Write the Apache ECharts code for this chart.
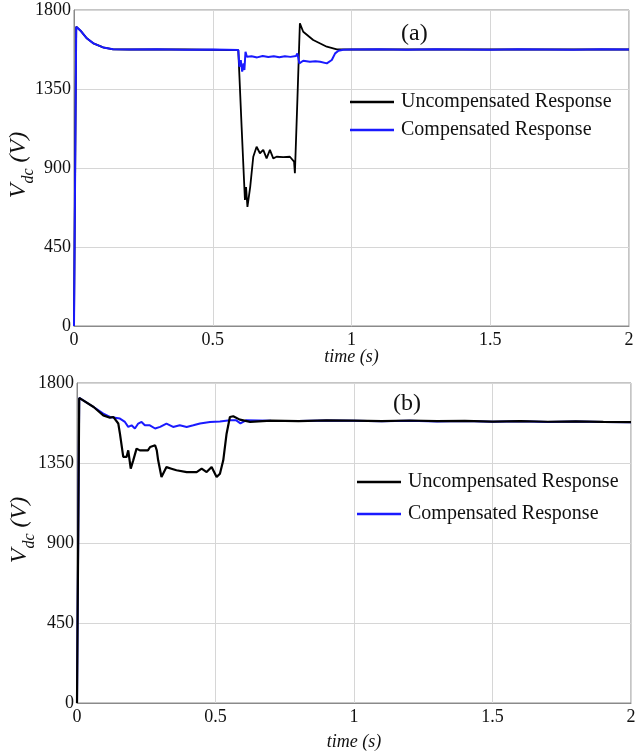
<!DOCTYPE html>
<html>
<head>
<meta charset="utf-8">
<script src="https://cdn.jsdelivr.net/npm/echarts@6/dist/echarts.min.js"></script>
<style>html,body{margin:0;padding:0;background:#fff}#c{width:637px;height:751px}</style>
</head>
<body>
<div id="c"></div>
<script>
// ---- data (a) ----
const aUncompT = [0, 0.008, 0.025, 0.046, 0.07, 0.105, 0.141, 0.2, 0.4, 0.592, 0.604, 0.613, 0.616, 0.62, 0.625, 0.635, 0.646, 0.658, 0.67, 0.682, 0.694, 0.706, 0.718, 0.73, 0.754, 0.778, 0.793, 0.796, 0.805, 0.814, 0.826, 0.862, 0.911, 0.947, 1.0, 1.5, 2.0];
const aUncompV = [0, 1705, 1680, 1639, 1610, 1587, 1576, 1575, 1575, 1572, 1135, 820, 718, 792, 678, 793, 964, 1021, 984, 1003, 955, 1003, 955, 964, 962, 964, 936, 870, 1287, 1724, 1676, 1629, 1591, 1576, 1575, 1575, 1575];
const aCompT = [0, 0.008, 0.025, 0.046, 0.07, 0.105, 0.141, 0.2, 0.3, 0.4, 0.5, 0.55, 0.592, 0.596, 0.601, 0.606, 0.611, 0.614, 0.618, 0.623, 0.64, 0.66, 0.68, 0.7, 0.72, 0.74, 0.76, 0.78, 0.8, 0.805, 0.812, 0.826, 0.85, 0.87, 0.887, 0.911, 0.929, 0.941, 0.953, 0.97, 1.0, 1.1, 1.2, 1.3, 1.4, 1.5, 1.6, 1.7, 1.8, 1.9, 2.0];
const aCompV = [0, 1705, 1680, 1639, 1610, 1587, 1576, 1575, 1576, 1574, 1575, 1574, 1572, 1477, 1515, 1449, 1496, 1458, 1562, 1534, 1536, 1530, 1538, 1532, 1537, 1531, 1536, 1533, 1538, 1553, 1496, 1511, 1505, 1508, 1505, 1496, 1515, 1553, 1568, 1574, 1575, 1577, 1574, 1576, 1575, 1574, 1576, 1575, 1574, 1576, 1575];
// ---- data (b) ----
const bUncompT = [0, 0.008, 0.06, 0.095, 0.119, 0.131, 0.149, 0.155, 0.167, 0.179, 0.185, 0.194, 0.203, 0.215, 0.227, 0.256, 0.264, 0.282, 0.288, 0.293, 0.305, 0.323, 0.341, 0.359, 0.396, 0.432, 0.45, 0.468, 0.486, 0.504, 0.516, 0.528, 0.54, 0.552, 0.564, 0.588, 0.625, 0.7, 0.8, 0.9, 1.0, 1.1, 1.2, 1.3, 1.4, 1.5, 1.6, 1.7, 1.8, 1.9, 2.0];
const bUncompV = [0, 1716, 1665, 1618, 1605, 1609, 1572, 1515, 1384, 1384, 1421, 1318, 1365, 1431, 1421, 1421, 1440, 1450, 1421, 1365, 1271, 1327, 1318, 1309, 1299, 1299, 1318, 1299, 1327, 1271, 1290, 1365, 1515, 1609, 1613, 1594, 1581, 1588, 1585, 1590, 1588, 1586, 1589, 1585, 1587, 1583, 1586, 1582, 1584, 1581, 1580];
const bCompT = [0, 0.008, 0.06, 0.095, 0.119, 0.155, 0.173, 0.185, 0.197, 0.209, 0.221, 0.233, 0.245, 0.263, 0.282, 0.3, 0.323, 0.347, 0.371, 0.396, 0.42, 0.444, 0.48, 0.516, 0.552, 0.575, 0.59, 0.61, 0.7, 0.8, 0.9, 1.0, 1.1, 1.2, 1.3, 1.4, 1.5, 1.6, 1.7, 1.8, 1.9, 2.0];
const bCompV = [0, 1716, 1665, 1628, 1609, 1600, 1581, 1553, 1562, 1544, 1572, 1581, 1562, 1562, 1544, 1553, 1572, 1553, 1562, 1553, 1562, 1572, 1581, 1584, 1590, 1590, 1573, 1590, 1587, 1586, 1589, 1587, 1585, 1588, 1584, 1586, 1582, 1585, 1581, 1583, 1580, 1579];
const seriesNames = ['Uncompensated Response', 'Compensated Response'];
const panelLabels = ['(a)', '(b)'];
const yName = '{v|V}{s|dc}{v| (V)}';
const xName = 'time (s)';
const yMax = 1800, yStep = 450, xMax = 2, xStep = 0.5;

const pairs = (t, v) => t.map((x, i) => [x, v[i]]);
const FONT = "'Liberation Serif','Times New Roman',serif";
const BLACK = '#000000', BLUE = '#1a1aff';

function xAxis(gi, gap) {
  return {
    type: 'value', gridIndex: gi, min: 0, max: xMax, interval: xStep,
    name: xName, nameLocation: 'middle', nameGap: gap, nameMoveOverlap: false,
    nameTextStyle: {fontFamily: FONT, fontStyle: 'italic', fontSize: 18, color: '#111'},
    axisLine: {lineStyle: {color: '#8a8a8a'}},
    axisTick: {show: false},
    axisLabel: {fontFamily: FONT, fontSize: 18, color: '#111', margin: 5, formatter: v => String(v)},
    splitLine: {lineStyle: {color: '#d6d6d6'}}
  };
}
function yAxis(gi) {
  return {
    type: 'value', gridIndex: gi, min: 0, max: yMax, interval: yStep,
    axisLine: {lineStyle: {color: '#8a8a8a'}},
    axisTick: {show: false},
    axisLabel: {fontFamily: FONT, fontSize: 18, color: '#111', margin: 3, formatter: v => String(v)},
    splitLine: {lineStyle: {color: '#d6d6d6'}}
  };
}
function yTitle(x, y) {
  return {
    type: 'text', x: x, y: y, rotation: Math.PI / 2, silent: true,
    style: {
      text: yName, align: 'center', verticalAlign: 'middle',
      rich: {
        v: {fontFamily: FONT, fontStyle: 'italic', fontSize: 24, fill: '#111', lineHeight: 30, verticalAlign: 'top'},
        s: {fontFamily: FONT, fontStyle: 'italic', fontSize: 16, fill: '#111', lineHeight: 30, verticalAlign: 'bottom'}
      }
    }
  };
}
function legend(left, top, gap) {
  return {
    data: seriesNames, orient: 'vertical', left: left, top: top, itemGap: gap, padding: 0,
    itemWidth: 44, itemHeight: 2.5, icon: 'rect',
    textStyle: {fontFamily: FONT, fontSize: 20, color: '#111', padding: [0, 0, 0, 2]},
    selectedMode: false
  };
}
function line(name, gi, data, color, w) {
  return {
    name: name, type: 'line', xAxisIndex: gi, yAxisIndex: gi, data: data,
    showSymbol: false, symbol: 'none', color: color,
    lineStyle: {color: color, width: w}, animation: false
  };
}

const chart = echarts.init(document.getElementById('c'), null, {renderer: 'canvas'});
chart.setOption({
  backgroundColor: '#fff',
  animation: false,
  title: [
    {text: panelLabels[0], left: 396, top: 17, textStyle: {fontFamily: FONT, fontSize: 24, fontWeight: 'normal', color: '#111'}},
    {text: panelLabels[1], left: 388, top: 387, textStyle: {fontFamily: FONT, fontSize: 24, fontWeight: 'normal', color: '#111'}}
  ],
  grid: [
    {left: 74, top: 10, width: 555, height: 316, show: true, borderColor: '#8a8a8a', borderWidth: 1, containLabel: false, outerBoundsMode: 'none'},
    {left: 77, top: 383, width: 554, height: 320, show: true, borderColor: '#8a8a8a', borderWidth: 1, containLabel: false, outerBoundsMode: 'none'}
  ],
  graphic: [yTitle(22, 165), yTitle(23, 530)],
  legend: [legend(350, 92, 8), legend(357, 472, 12)],
  xAxis: [xAxis(0, 22), xAxis(1, 30)],
  yAxis: [yAxis(0), yAxis(1)],
  series: [
    line(seriesNames[0], 0, pairs(aUncompT, aUncompV), BLACK, 1.8),
    line(seriesNames[1], 0, pairs(aCompT, aCompV), BLUE, 2),
    line(seriesNames[1], 1, pairs(bCompT, bCompV), BLUE, 2),
    line(seriesNames[0], 1, pairs(bUncompT, bUncompV), BLACK, 2.2)
  ]
});
</script>
</body>
</html>
